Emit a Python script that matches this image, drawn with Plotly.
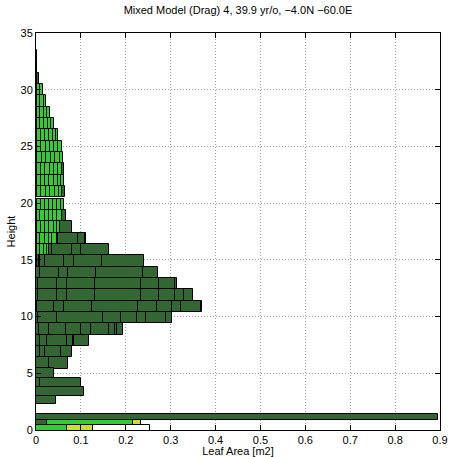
import plotly.graph_objects as go

# ---- data ----
row_heights = [33.0, 32.0, 31.0, 30.0, 29.0, 28.0, 27.0, 26.0, 25.0, 24.0, 23.0, 22.0, 21.0,
               19.9, 18.9, 17.9, 16.9, 15.9, 14.9, 13.9, 12.9, 11.9, 10.9, 9.9, 8.9, 7.9,
               6.9, 5.9, 5.0, 4.17, 3.4, 2.67, 1.17, 0.62, 0.17]
row_thickness = [1.0] * 28 + [0.88, 0.78, 0.78, 0.7, 0.55, 0.52, 0.5]

# cumulative ends of the stacked segments for each row (Leaf Area, m2)
row_ends = [
    [0.0015],
    [0.003],
    [0.003, 0.007],
    [0.003, 0.009, 0.016],
    [0.003, 0.010, 0.017, 0.023],
    [0.003, 0.010, 0.018, 0.025, 0.032],
    [0.003, 0.010, 0.018, 0.026, 0.033, 0.040],
    [0.003, 0.012, 0.021, 0.030, 0.038, 0.044, 0.050],
    [0.003, 0.012, 0.022, 0.031, 0.040, 0.049, 0.057],
    [0.003, 0.013, 0.022, 0.033, 0.042, 0.053, 0.061],
    [0.003, 0.012, 0.021, 0.031, 0.041, 0.050, 0.058, 0.063],
    [0.003, 0.011, 0.020, 0.030, 0.039, 0.048, 0.056, 0.063],
    [0.003, 0.012, 0.022, 0.032, 0.042, 0.051, 0.059, 0.0646],
    [0.003, 0.011, 0.020, 0.029, 0.038, 0.047, 0.055, 0.063],
    [0.003, 0.010, 0.019, 0.028, 0.037, 0.046, 0.058, 0.066],
    [0.003, 0.011, 0.021, 0.030, 0.040, 0.047, 0.053, 0.081],
    [0.003, 0.010, 0.019, 0.028, 0.036, 0.046, 0.050, 0.094, 0.110, 0.111],
    [0.003, 0.010, 0.017, 0.024, 0.030, 0.035, 0.0795, 0.100, 0.162],
    [0.003, 0.006, 0.009, 0.020, 0.063, 0.0846, 0.146, 0.2405],
    [0.009, 0.052, 0.072, 0.134, 0.238, 0.272],
    [0.005, 0.0475, 0.070, 0.131, 0.235, 0.275, 0.310, 0.315],
    [0.005, 0.0475, 0.070, 0.131, 0.235, 0.275, 0.310, 0.330, 0.349],
    [0.002, 0.041, 0.062, 0.124, 0.228, 0.269, 0.304, 0.323, 0.367, 0.370],
    [0.005, 0.046, 0.150, 0.190, 0.226, 0.245, 0.289, 0.304],
    [0.006, 0.030, 0.066, 0.100, 0.122, 0.163, 0.176, 0.180, 0.194],
    [0.009, 0.025, 0.068, 0.082, 0.085, 0.117],
    [0.009, 0.020, 0.055, 0.0795],
    [0.029, 0.072],
    [0.039],
    [0.010, 0.0995],
    [0.108],
    [0.044],
    [0.895],
    [0.025, 0.217, 0.233],
    [0.068, 0.126, 0.200, 0.255],
]

# segment colour codes: D dark green, B bright green, Y yellow-green, W white
row_colors = [
    "D", "D", "DD", "DBB", "DBBB", "DBBBB", "DBBBBB", "DBBBBBB", "DBBBBBB", "DBBBBBB",
    "DBBBBBBD", "DBBBBBBB", "DBBBBBBD", "DBBBBBBB", "DBBBBBBD", "DBBBBBBD",
    "DBBBBBDDDD", "DBBBBDDDD", "BDBDDDDD", "DDDDDD", "DDDDDDDD", "DDDDDDDDD",
    "DDDDDDDDDD", "DDDDDDDD", "DDDDDDDDD", "DDDDDD", "DDDD", "DD", "D", "DD", "D", "D",
    "D", "DBY", "BYWW",
]

palette = {"D": "#336633", "B": "#33cc33", "Y": "#ccdd33", "W": "#ffffff"}

x_ticks = [0, 0.1, 0.2, 0.3, 0.4, 0.5, 0.6, 0.7, 0.8, 0.9]
y_ticks = [0, 5, 10, 15, 20, 25, 30, 35]

title_text = "Mixed Model (Drag) 4, 39.9 yr/o, \u22124.0N \u221260.0E"
x_title = "Leaf Area [m2]"
y_title = "Height"

# ---- build segments from the data ----
groups = {c: {"base": [], "x": [], "y": [], "w": []} for c in palette}
for h, t, ends, cols in zip(row_heights, row_thickness, row_ends, row_colors):
    prev = 0.0
    for e, c in zip(ends, cols):
        g = groups[c]
        g["base"].append(prev)
        g["x"].append(e - prev)
        g["y"].append(h)
        g["w"].append(t)
        prev = e

fig = go.Figure()
for c, g in groups.items():
    fig.add_trace(go.Bar(
        orientation="h", base=g["base"], x=g["x"], y=g["y"], width=g["w"],
        marker=dict(color=palette[c], line=dict(color="black", width=1)),
        showlegend=False, hoverinfo="skip",
    ))

font_family = "Liberation Sans, Arial, Helvetica, sans-serif"
axis_common = dict(
    showline=True, linecolor="black", linewidth=1, mirror="ticks",
    ticks="inside", ticklen=5, tickcolor="black", tickwidth=1,
    showgrid=True, gridcolor="#a0a0a0", griddash="1px,2px", gridwidth=1,
    zeroline=False, automargin=False,
    tickfont=dict(size=11, color="black", family=font_family),
)

fig.update_layout(
    width=452, height=457,
    margin=dict(l=36, r=12, t=33, b=27),
    paper_bgcolor="white", plot_bgcolor="white",
    barmode="overlay", bargap=0,
    title=dict(text=title_text, x=0.5265, xanchor="center", xref="container",
               y=1 - 10 / 457, yref="container", yanchor="middle",
               font=dict(size=11, color="black", family=font_family)),
    xaxis=dict(range=[0, 0.9], tickvals=x_ticks, ticktext=[f"{v:g}" for v in x_ticks],
               title=dict(text=x_title, standoff=0, font=dict(size=11, color="black", family=font_family)),
               **axis_common),
    yaxis=dict(range=[0, 35], tickvals=y_ticks,
               title=dict(text=y_title, standoff=2, font=dict(size=11, color="black", family=font_family)),
               **axis_common),
    font=dict(family=font_family),
)

fig.write_html(
    "out.html",
    config={"displayModeBar": False},
    post_script="document.body.style.margin='0';document.body.style.overflow='hidden';",
)
